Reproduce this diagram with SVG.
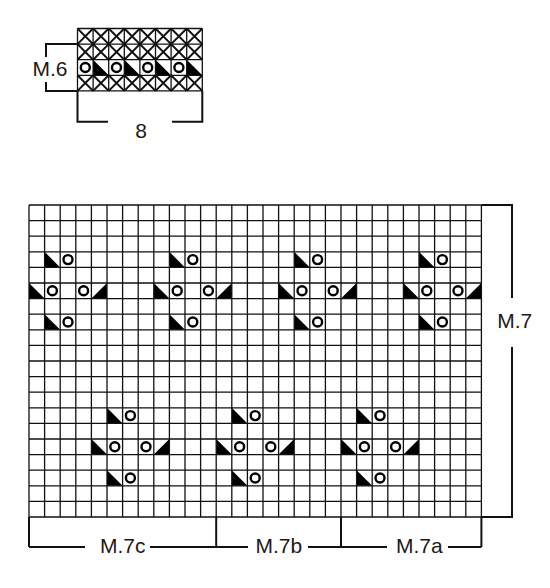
<svg xmlns="http://www.w3.org/2000/svg" xmlns:xlink="http://www.w3.org/1999/xlink" width="550" height="588" viewBox="0 0 550 588">
<style>
.grid{fill:none;stroke:#111;stroke-width:1.3}
.brk{fill:none;stroke:#111;stroke-width:2}
.lbl{font-family:"Liberation Sans",Arial,sans-serif;font-size:21px;fill:#1a1a1a;text-anchor:middle}
.tri{fill:#000;stroke:none}
.yo{fill:#fff;stroke:#000;stroke-width:2.4}
.x{fill:none;stroke:#111;stroke-width:2}
</style>
<defs>
<path id="tl" class="tri" d="M0,0 L0,15.6 L15.6,15.6 Z"/>
<path id="tr" class="tri" d="M15.6,0 L15.6,15.6 L0,15.6 Z"/>
<circle id="o" class="yo" cx="7.8" cy="7.8" r="4.5"/>
<path id="x" class="x" d="M0,0 L15.6,15.6 M15.6,0 L0,15.6"/>
<g id="xrow">
<use href="#x" x="0"/><use href="#x" x="15.6"/><use href="#x" x="31.2"/><use href="#x" x="46.8"/>
<use href="#x" x="62.4"/><use href="#x" x="78"/><use href="#x" x="93.6"/><use href="#x" x="109.2"/>
</g>
<g id="motif">
<use href="#tl" x="15.6" y="0"/><use href="#o" x="31.2" y="0"/>
<use href="#tl" x="0" y="31.2"/><use href="#o" x="15.6" y="31.2"/><use href="#o" x="46.8" y="31.2"/><use href="#tr" x="62.4" y="31.2"/>
<use href="#tl" x="15.6" y="62.4"/><use href="#o" x="31.2" y="62.4"/>
</g>
</defs>
<rect width="550" height="588" fill="#fff"/>

<g id="chart-m6" transform="translate(77.5,28.5)">
<use href="#xrow" y="0"/>
<use href="#xrow" y="15.6"/>
<use href="#xrow" y="46.8"/>
<g id="m6-row3">
<use href="#o" x="0" y="31.2"/><use href="#tl" x="15.6" y="31.2"/>
<use href="#o" x="31.2" y="31.2"/><use href="#tl" x="46.8" y="31.2"/>
<use href="#o" x="62.4" y="31.2"/><use href="#tl" x="78" y="31.2"/>
<use href="#o" x="93.6" y="31.2"/><use href="#tl" x="109.2" y="31.2"/>
</g>
<path class="grid" d="M0,0 V62.4 M15.6,0 V62.4 M31.2,0 V62.4 M46.8,0 V62.4 M62.4,0 V62.4 M78,0 V62.4 M93.6,0 V62.4 M109.2,0 V62.4 M124.8,0 V62.4 M0,0 H124.8 M0,15.6 H124.8 M0,31.2 H124.8 M0,46.8 H124.8 M0,62.4 H124.8"/>
</g>

<g id="chart-m7" transform="translate(29,205)">
<g id="m7-symbols">
<use href="#motif" x="0" y="46.8"/>
<use href="#motif" x="124.8" y="46.8"/>
<use href="#motif" x="249.6" y="46.8"/>
<use href="#motif" x="374.4" y="46.8"/>
<use href="#motif" x="62.4" y="202.8"/>
<use href="#motif" x="187.2" y="202.8"/>
<use href="#motif" x="312" y="202.8"/>
</g>
<path class="grid" d="M0,0 V312 M15.6,0 V312 M31.2,0 V312 M46.8,0 V312 M62.4,0 V312 M78,0 V312 M93.6,0 V312 M109.2,0 V312 M124.8,0 V312 M140.4,0 V312 M156,0 V312 M171.6,0 V312 M187.2,0 V312 M202.8,0 V312 M218.4,0 V312 M234,0 V312 M249.6,0 V312 M265.2,0 V312 M280.8,0 V312 M296.4,0 V312 M312,0 V312 M327.6,0 V312 M343.2,0 V312 M358.8,0 V312 M374.4,0 V312 M390,0 V312 M405.6,0 V312 M421.2,0 V312 M436.8,0 V312 M452.4,0 V312
M0,0 H452.4 M0,15.6 H452.4 M0,31.2 H452.4 M0,46.8 H452.4 M0,62.4 H452.4 M0,78 H452.4 M0,93.6 H452.4 M0,109.2 H452.4 M0,124.8 H452.4 M0,140.4 H452.4 M0,156 H452.4 M0,171.6 H452.4 M0,187.2 H452.4 M0,202.8 H452.4 M0,218.4 H452.4 M0,234 H452.4 M0,249.6 H452.4 M0,265.2 H452.4 M0,280.8 H452.4 M0,296.4 H452.4 M0,312 H452.4"/>
</g>

<g id="connectors">
<path class="brk" d="M77.5,44.1 H46 V57 M46,82 V91 H77.5"/>
<path class="brk" d="M77.5,91 V121.7 H108 M172,121.7 H202.3 V91"/>
<path class="brk" d="M481.4,205 H512 V298 M512,347 V517 H481.4"/>
<path class="brk" d="M29,517 V547 M216.2,517 V547 M341,517 V547 M481.4,517 V547 M29,547 H85 M150,547 H248 M308,547 H387 M448,547 H481.4"/>
</g>

<g id="labels">
<text class="lbl" x="50" y="75.7">M.6</text>
<text class="lbl" x="141" y="138.3">8</text>
<text class="lbl" x="514.7" y="328.3">M.7</text>
<text class="lbl" x="122.8" y="553.3">M.7c</text>
<text class="lbl" x="278.8" y="553.3">M.7b</text>
<text class="lbl" x="419.3" y="553.3">M.7a</text>
</g>
</svg>
